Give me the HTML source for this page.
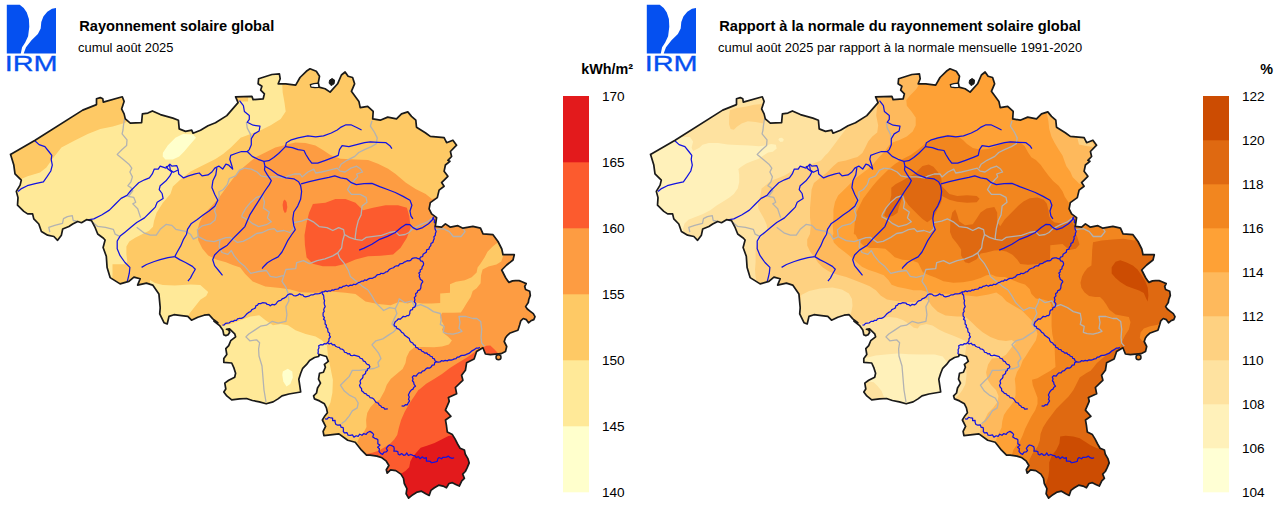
<!DOCTYPE html>
<html><head><meta charset="utf-8"><title>IRM</title>
<style>
html,body{margin:0;padding:0;background:#fff;}
body{width:1280px;height:507px;overflow:hidden;}
svg{display:block;}
text{font-family:"Liberation Sans",sans-serif;fill:#000;}
.lab{font-size:13.6px;}
.ttl{font-size:14.63px;font-weight:bold;}
.sub{font-size:12.9px;}
.unit{font-size:14.35px;font-weight:bold;}
.outl{fill:none;stroke:#1a1a1a;stroke-width:1.7;stroke-linejoin:round;}
.riv{fill:none;stroke:#1212e2;stroke-width:1.25;stroke-linejoin:round;}
.prov{fill:none;stroke:#b2b2b2;stroke-width:1.3;stroke-linejoin:round;}
</style></head><body>
<svg width="1280" height="507" viewBox="0 0 1280 507">
<defs><clipPath id="clipB"><path d="M10.5 154.5 L35.1 140.2 L82.7 110.1 L96.5 104.6 L96.5 98.8 L100.3 97.6 L102.8 98.8 L103.3 102.1 L122.3 96.8 L124.1 101.4 L121.6 108.9 L124.1 113.9 L125.3 118.9 L130.3 123.2 L141.6 122.7 L142.4 113.9 L147.9 113.1 L152.4 110.9 L160.4 114.6 L172.9 118.1 L178.4 120.2 L179.2 128.9 L185.5 131.4 L191.7 130.2 L193 133.2 L200.5 130.2 L208 125.7 L215.5 122.7 L226.8 115.6 L238.1 102.6 L235.6 96.8 L251.9 96.3 L253.1 99.6 L263.2 98.8 L264.4 93.8 L260.7 90.1 L261.9 86.3 L258.1 83.8 L258.6 78.8 L271.9 74.5 L279.4 73.8 L280.2 78.8 L278.2 83.8 L285.7 83.8 L295.7 85.1 L300 77.5 L306.3 71.3 L310 68.8 L316.3 71.3 L319.5 76.3 L318.3 82.6 L319 87.1 L325.1 88.8 L330.1 92.1 L337.6 83.8 L341.4 75 L345.1 72 L348.1 76.3 L352.6 77.5 L354.6 83.8 L351.4 91.3 L358.9 101.4 L360.2 107.6 L367.7 106.4 L373.2 111.4 L372.7 118.9 L380.2 120.2 L387.7 117.1 L396.5 118.9 L401.5 113.9 L407.8 111.9 L411.5 116.4 L415.8 120.2 L416.5 127.2 L425.3 132.7 L430.3 136.4 L444.1 137.7 L446.6 142.7 L452.9 140.2 L456.6 145.2 L450.4 151.5 L451.6 156.5 L447.9 160.3 L449.9 161.3 L445.4 165 L444.1 171.3 L447.9 176.3 L441.6 182.6 L444.1 186.3 L439.1 190.1 L437.3 197.6 L430.3 202.6 L429.1 208.9 L431.6 213.9 L436.6 217.6 L435.3 226.4 L441.6 227.2 L445.4 223.9 L450.4 227.2 L457.9 225.7 L462.9 228.2 L472.9 226.4 L480.5 228.2 L483 233.9 L493 234.7 L498 241.5 L501.8 249 L503 254.7 L514.3 254.7 L513 260 L506.7 265 L501.7 270 L505.5 277.5 L507.8 280.9 L509 282.4 L512.5 280.9 L515.5 280.6 L519.1 280.6 L522 281.8 L526.2 283.6 L524.7 286.5 L525.6 289.5 L529.7 291.2 L530.3 295.4 L528.8 299.5 L528.3 302.5 L525.6 306.6 L527.3 309 L530.3 311.4 L533.3 313.7 L535 316.7 L533.8 319.6 L530.9 320.8 L528.5 322.8 L526.2 319.6 L523.2 318.5 L520.8 320.8 L519.6 325 L518.5 328.5 L517.9 330.3 L514.3 331.5 L509.6 333.3 L507.2 335.6 L505.4 338 L504.2 341.5 L506.7 346.5 L505.5 351.5 L501 353.7 L495.4 354.2 L490.4 354.7 L485.4 354 L482.9 347.7 L476.6 351.5 L474.1 359 L466.6 362.8 L465.4 370.3 L461.6 375.3 L462.9 380.3 L461.7 381.3 L455.4 387.5 L456.7 393.8 L448.4 397.5 L449.2 401.3 L445.4 410.1 L450.9 416.3 L445.5 420 L446.4 425.2 L447.3 432 L452.4 434.6 L455 438.9 L457.6 444 L460.1 448.3 L464.4 450 L465.3 454.3 L467.9 458.6 L469.2 462.9 L467 468.1 L465.3 471.5 L462.7 474.1 L464.4 478.4 L461.8 480.9 L459.3 486.1 L455.8 484.4 L452.4 482.7 L449 483.5 L446.4 487.8 L443 486.1 L438.7 485.2 L434.4 487.8 L430.9 490.4 L429.2 495.5 L425.8 493.8 L421.5 491.2 L417.2 492.1 L412.9 494.7 L408.6 498.1 L406.1 493.8 L406.9 488.7 L404.3 483.5 L403.5 478.4 L400.9 474.1 L395.8 470.6 L390.6 469.8 L387.2 473.2 L386.3 469.8 L388.9 465.5 L386.3 461.2 L382 457.8 L376.9 456.1 L370 455.2 L366.5 455.2 L361.5 450.2 L355.2 442.2 L347.7 440.2 L338.9 433.9 L323.9 435.6 L323.1 431.4 L325.6 426.4 L322.4 420 L324.4 416.6 L327.4 412.7 L326.4 407.8 L324.4 403.8 L319.5 400.9 L314.5 398.9 L313.6 395.9 L316.5 393 L317.5 388 L320.5 383.1 L318.5 379.2 L319.5 373.3 L323.4 372.3 L325.4 367.3 L324.4 364.4 L328.3 361.4 L326.4 356.5 L319.5 354.5 L318.5 356.5 L314.5 357.5 L309.6 360.4 L306.6 364.4 L302.7 368.3 L300.7 373.3 L298.8 379.2 L299.7 385.1 L300.7 392 L294.8 393 L288.9 394 L282 395.9 L278 398.9 L273.1 401.9 L266.2 403.8 L259.3 401.9 L252.4 400.5 L246.5 398.5 L239.6 398.9 L231.7 399.9 L226.8 395.9 L223.8 392 L225.8 389 L224.8 383.1 L228.7 380.2 L234.7 377.2 L235.6 373.3 L233.7 367.3 L231.7 363 L223.8 362.4 L223.8 358.5 L226.8 354.5 L225.8 348.6 L228.7 345.6 L230.7 340.7 L235.6 336.8 L234.7 333.8 L229.5 328.8 L226.5 329.3 L228.7 329.9 L229.7 332.2 L228.1 334.8 L225.8 335.6 L223.8 334.8 L222.8 329.9 L219.9 325.9 L213.9 321 L217.8 322.7 L212.8 318.9 L209.1 314.7 L204.1 315.2 L197.8 317.2 L191.5 320.2 L187.8 316.4 L181.5 315.7 L174 314.7 L169 316.4 L167.2 324 L164 322.7 L159.7 313.9 L160.2 307.7 L158.9 293.9 L152.7 285.1 L146.4 283.1 L137.6 285.1 L140.2 278.8 L133.9 277.1 L128.9 281.4 L120.1 283.9 L110.1 277.6 L107.1 267.6 L106.3 256.3 L103.1 247.5 L105.1 240 L102.8 237.7 L97.7 234 L95.2 227.7 L91.5 220.7 L86.5 219.7 L81.5 222.7 L77.7 221.5 L72.7 224 L68.9 226.5 L62.7 229 L61.4 235.2 L57.6 240.3 L53.9 236.5 L47.6 235.2 L41.4 231.5 L38.8 224 L33.8 218.9 L32.6 213.9 L27.6 213.9 L23.8 211.4 L17.5 205.2 L18 197.6 L16.3 191.4 L20.1 185.1 L21.3 180.1 L15 173.8 L13.8 165.1 L10.5 154.3 Z"/></clipPath></defs>
<rect width="1280" height="507" fill="#fff"/>
<g id="logo">
<path d="M6.8 4.7 L19.7 4.7 L23.7 7.9 L26.8 12.6 L28.9 18.9 L29.3 26.8 L28.1 36.3 L25.2 42.6 L22.1 47.3 L20.8 53.6 L6.8 53.6 Z" fill="#0550F0"/>
<path d="M56 7.9 L52 8.7 L47.3 11.8 L43.4 16.6 L41.3 22.1 L40.7 28.4 L37.9 33.9 L31.5 40.2 L26 47.3 L23.7 53.6 L56 53.6 Z" fill="#0550F0"/>
<text x="4.7" y="71" style="font-size:22.6px;fill:#0550F0;stroke:#0550F0;stroke-width:0.3;" textLength="53" lengthAdjust="spacingAndGlyphs">IRM</text>
</g>
<g transform="translate(640,0)"><g>
<path d="M6.8 4.7 L19.7 4.7 L23.7 7.9 L26.8 12.6 L28.9 18.9 L29.3 26.8 L28.1 36.3 L25.2 42.6 L22.1 47.3 L20.8 53.6 L6.8 53.6 Z" fill="#0550F0"/>
<path d="M56 7.9 L52 8.7 L47.3 11.8 L43.4 16.6 L41.3 22.1 L40.7 28.4 L37.9 33.9 L31.5 40.2 L26 47.3 L23.7 53.6 L56 53.6 Z" fill="#0550F0"/>
<text x="4.7" y="71" style="font-size:22.6px;fill:#0550F0;stroke:#0550F0;stroke-width:0.3;" textLength="53" lengthAdjust="spacingAndGlyphs">IRM</text>
</g></g>
<text x="79.2" y="30.5" class="ttl">Rayonnement solaire global</text>
<text x="78.1" y="51.8" class="sub">cumul août 2025</text>
<text x="719.2" y="30.5" class="ttl">Rapport à la normale du rayonnement solaire global</text>
<text x="718.1" y="51.8" class="sub">cumul août 2025 par rapport à la normale mensuelle 1991-2020</text>
<text x="581.2" y="74" class="unit">kWh/m²</text>
<text x="1260.2" y="74" class="unit">%</text>
<rect x="563" y="426" width="26" height="66.3" fill="#FFFFCC"/>
<rect x="563" y="360" width="26" height="66.3" fill="#FFE998"/>
<rect x="563" y="294" width="26" height="66.3" fill="#FEC965"/>
<rect x="563" y="228" width="26" height="66.3" fill="#FD9C42"/>
<rect x="563" y="162" width="26" height="66.3" fill="#FC5B2E"/>
<rect x="563" y="96" width="26" height="66.3" fill="#E31A1C"/>
<text x="602" y="496.8" class="lab">140</text>
<text x="602" y="430.8" class="lab">145</text>
<text x="602" y="364.8" class="lab">150</text>
<text x="602" y="298.8" class="lab">155</text>
<text x="602" y="232.8" class="lab">160</text>
<text x="602" y="166.8" class="lab">165</text>
<text x="602" y="100.8" class="lab">170</text>
<rect x="1203" y="448" width="26" height="44.3" fill="#FFFFD4"/>
<rect x="1203" y="404" width="26" height="44.3" fill="#FFF1BA"/>
<rect x="1203" y="360" width="26" height="44.3" fill="#FEE2A0"/>
<rect x="1203" y="316" width="26" height="44.3" fill="#FED181"/>
<rect x="1203" y="272" width="26" height="44.3" fill="#FEB95C"/>
<rect x="1203" y="228" width="26" height="44.3" fill="#FEA136"/>
<rect x="1203" y="184" width="26" height="44.3" fill="#F2861F"/>
<rect x="1203" y="140" width="26" height="44.3" fill="#DF6911"/>
<rect x="1203" y="96" width="26" height="44.3" fill="#CC4C02"/>
<text x="1242" y="496.8" class="lab">104</text>
<text x="1242" y="452.8" class="lab">106</text>
<text x="1242" y="408.8" class="lab">108</text>
<text x="1242" y="364.8" class="lab">110</text>
<text x="1242" y="320.8" class="lab">112</text>
<text x="1242" y="276.8" class="lab">114</text>
<text x="1242" y="232.8" class="lab">116</text>
<text x="1242" y="188.8" class="lab">118</text>
<text x="1242" y="144.8" class="lab">120</text>
<text x="1242" y="100.8" class="lab">122</text>
<g transform="translate(0,0)">
<g clip-path="url(#clipB)">
<rect x="0" y="60" width="560" height="447" fill="#FEC965"/>
<path d="M5 186 L18.8 180.1 L27.6 176.3 L40.1 172.6 L46.4 167.6 L52.6 158.8 L61.4 147.6 L75.2 140.2 L87.7 133.9 L100.3 128.9 L112.8 126.4 L125.3 122.7 L135 115 L140 95 L200 95 L240 80 L282 70 L282 80 L282.7 92.6 L284.5 102.6 L285.7 111.4 L280.7 118.9 L270.7 125.2 L260.7 130.2 L250.6 133.9 L240.6 137.7 L235.6 142.7 L230.6 147.7 L223.1 154 L215.5 159 L200.5 166.5 L190.5 171.5 L180.5 179.5 L172.9 186.4 L170.4 193.9 L162.9 202.7 L156.6 212.7 L155.9 215 L154 220.9 L153 226.8 L149 230.8 L143.1 233.7 L135.2 237.7 L129.3 241.6 L126.4 246.6 L126.4 254.4 L127.3 261.4 L126.4 264.3 L112.5 264.3 L112.5 274.2 L112 282 L95 282 L90 240 L40 250 L5 215 Z" fill="#FFE998"/>
<path d="M234 95 L248.1 95 L248.1 101.4 L234 101.4 Z" fill="#FEC965"/>
<path d="M150 280 L155 283 L162.8 285 L174.7 285.6 L190.5 284.4 L200.3 285 L208.2 291.9 L206.2 295.9 L200.3 299.8 L196.4 304.7 L192.4 309.7 L189.5 313.6 L186 320 L160 330 L150 300 Z" fill="#FFE998"/>
<path d="M218 327 L230.4 324 L240.4 320.2 L250.4 316.4 L259.2 315.2 L265.5 320.2 L273 325.2 L280.5 324 L288 325.2 L295.5 330.2 L305.6 334 L315.6 336.5 L321.9 340.3 L326.9 345.3 L327.9 355.1 L330.4 367.6 L332.9 380.1 L332.4 392.7 L330.4 402.7 L326.6 410.2 L324.1 416.5 L318 420 L300 412 L215 412 L212 330 Z" fill="#FFE998"/>
<path d="M162.9 152.7 L167.9 145.2 L175.4 137.7 L183 133.9 L193 134.4 L196 137.7 L190.5 144 L184.2 151.5 L179.2 156.5 L172.9 159.5 L165.4 159.5 L162.7 156.5 Z" fill="#FFFFCC"/>
<path d="M282.8 371.4 L287.8 368.8 L292.3 371.4 L292.8 377.6 L290.3 383.9 L286.5 386.4 L283.3 381.4 L282.3 375.1 Z" fill="#FFFFCC"/>
<path d="M285.3 145 L295.3 142.5 L305.4 143 L315.4 145.5 L322.9 150.1 L330.4 155.1 L340.5 158.8 L355.5 159.6 L368 160.1 L378 163.8 L388.1 168.8 L395.6 173.9 L405.6 182.6 L415.6 188.9 L425.7 193.9 L431.9 198.9 L445 195 L480 205 L510 235 L496.4 243.4 L492.4 246.8 L487.5 251.7 L484.5 257.6 L480.6 263.5 L477.6 267.5 L476.6 272.4 L471.7 277.3 L464.8 280.3 L455.9 281.7 L450 284.2 L450 292.7 L440.2 293.5 L440.2 303 L431.3 303.4 L422.4 303.4 L415.5 302.6 L412.5 302 L407.6 303.4 L403.7 302.6 L398.7 302 L390.6 305.2 L378 303.9 L365.5 301.4 L360.5 297.7 L355.5 293.9 L345.5 292.7 L330.4 291.4 L315.4 292.7 L300.4 292.2 L290.3 289.6 L280.3 288.1 L265.3 286.4 L252.7 281.4 L245.2 273.9 L240.2 267.6 L232.7 265.1 L226 262.3 L216.1 259.4 L208.2 255.4 L202.3 248.5 L198.3 240.6 L197.4 230.8 L199.3 222.9 L203.9 214 L210.1 207.7 L218.9 197.7 L225.2 188.9 L232.7 178.9 L240.2 170.1 L247.7 163.8 L255.2 157.6 L265.3 152.6 L275.3 147.5 Z" fill="#FD9C42"/>
<path d="M520 250 L503.3 255.6 L501.3 261.6 L496.4 264.5 L488.5 266.5 L482.6 269.4 L481 275.4 L480.6 283.3 L476.6 288.2 L472.7 291.1 L470.7 297.1 L466.8 303 L463.8 307.9 L460.9 312.4 L453 312.8 L442.1 312.8 L440.2 316.8 L441 319.7 L444 325.6 L442 329.6 L444 333.5 L447.9 336.5 L451.9 340.4 L448.9 344.4 L442 346.4 L434.1 347.3 L422.3 346.9 L414.4 347.3 L409.5 351.3 L406.5 357.2 L405.5 363.1 L402.6 369 L396.6 374 L390.7 378.9 L386.8 384.8 L384.5 391 L379.5 400 L375.7 401.5 L370.4 407.3 L367.2 413.1 L366.1 420 L366.5 426.9 L364.2 431.5 L359.6 437.3 L357.3 441.9 L359.6 446.5 L355 452 L380 480 L400 505 L480 505 L545 400 L545 300 Z" fill="#FD9C42"/>
<path d="M312.9 203.9 L325.4 202.7 L335.4 198.9 L345.5 198.9 L355.5 202.7 L363 210.2 L373 207.7 L385.6 205.2 L398.1 205.2 L406.9 207.7 L409.4 216.5 L410.6 227.7 L406.9 237.8 L400.6 247.8 L393.1 254.5 L380.6 255.8 L368 256.3 L355.5 259.6 L345.5 263.8 L335.4 266.3 L322.9 266.3 L312.9 263.8 L306.6 257.6 L304.9 245 L304.5 235.2 L306.6 222.7 L309.1 212.7 Z" fill="#FC5B2E"/>
<path d="M284.8 199.5 L286.6 202 L287.3 207 L286.3 212 L284.8 213 L283.3 210 L282.6 205 L283.3 201 Z" fill="#FC5B2E"/>
<path d="M500 356 L497.2 352.3 L494.3 349.3 L490.3 345.4 L486.4 345.8 L483.4 347.3 L477.5 350.3 L471.6 354.2 L465.7 358.2 L457.8 363.1 L449.9 368 L442 374 L434.1 378.9 L426.2 383.8 L420.3 388.8 L418.4 390 L413.8 396.9 L409.2 403.8 L404.6 411.9 L401.1 420 L398.8 428.1 L397.2 435 L394.2 439.6 L389.6 444.2 L383.8 447.7 L379.2 450.4 L372.3 452.7 L366 454 L380 480 L400 505 L480 505 L500 400 Z" fill="#FC5B2E"/>
<path d="M460 434 L454.2 435 L448.4 436.1 L441.5 439.6 L434.6 443.1 L427.6 445.4 L420.7 447.7 L416.6 452.3 L412.7 456.9 L410.3 461.5 L409.2 467.3 L405.7 470.7 L402.3 473 L398 476 L400 505 L480 505 L480 440 Z" fill="#E31A1C"/>
<path d="M124.5 119 L123.5 125 L123 130 L122.1 133.9 L127 139.8 L126.6 145.6 L122.1 149.5 L117.2 154.4 L123 159.3 L128.9 164.2 L131.8 168.1 L129.9 172 L132.4 176.9 L130.9 181.8 L127.9 185.7 L130.9 187.6 L132.8 190.5 L129.9 194.5 L127.9 196.4 L133.8 197.4 L135.7 202.3 L132.8 203.9 L137.7 208.8 L139.6 214.6 L140.6 217.6" class="prov"/>
<path d="M49.8 232.2 L48.8 227.3 L54.7 225.4 L62.5 223.4 L63.5 218.6 L67.4 216.6 L72.3 215.6 L73.2 220.5 L78.1 221.5" class="prov"/>
<path d="M91.8 221.5 L97.7 226.4 L105.5 227.3 L113.3 229.3 L115.2 234.2 L119.1 236.1" class="prov"/>
<path d="M136.7 227.3 L144.5 233.2 L150.4 235.2 L156.3 235.2 L160.2 229.3 L166 224.4 L171.9 225.4 L175.8 229.3 L185.5 231.3 L190.4 234.2 L193.4 239.1 L198.3 236.7" class="prov"/>
<path d="M198.3 236.7 L197.4 229.8 L202.3 225.8 L210.2 223.9 L215.1 219.9 L216.1 215 L214.6 211 L216 205 L218 200 L219.2 196.4 L218.8 192 L223.4 189.5 L227.3 184.6 L229.3 178.5 L235.6 175.9 L239.5 170.1 L244.4 168.1" class="prov"/>
<path d="M198.3 236.7 L206.2 240.6 L214.1 241.6 L220 239.7 L225.9 237.7 L230.3 237.4 L237.1 242.3 L243 241.3 L250.8 237.4 L256.6 233.5 L262.5 232.5 L268.4 229.6 L274.2 228.6 L277.1 231.5 L284 230.5 L289.8 232.5 L293.8 228.6 L293.4 222.7 L301.6 221.2 L307.4 218.8 L313.3 221.8 L319.1 226.6 L327 227.6 L332.8 230.5 L338.7 227.6 L343.6 229.6 L344.5 234.5 L349.4 237.4 L355.3 239.3 L362.1 240.3 L366 237.4 L373.8 236.4 L381.6 235.4 L389.5 232.5 L395.3 231.5 L399.2 235.4 L405.1 234.5 L409 232.5 L412.9 228.6 L420.7 224.7 L427.5 221.8 L432.4 217.9" class="prov"/>
<path d="M220 239.7 L219.1 246.6 L222 252.5 L227.9 254.4 L231.3 250.5 L234.2 255.9 L239.1 261.7 L244.9 266.6 L250.8 273.4 L258.6 271.5 L266.4 270.5 L270.3 276.4 L276.2 277.3 L284 275.4 L285.9 269.5 L295.7 268.6 L296.7 262.7 L303.5 260.7 L309.4 263.7 L317.2 260.7 L325 258.8 L332.8 255.9 L337.7 252.9 L341.6 248 L342.6 241 L344.5 234.5" class="prov"/>
<path d="M242 214.9 L245.9 208.1 L250.8 202.2 L256.6 197.3 L262.5 195.4 L264.5 202.2 L263.5 208.1 L269.3 212 L267.4 217.9 L271.3 221.8 L266.4 224.7 L258.6 226.6 L252.7 223.7 L247.9 219.8 L242 216.9 L242 214.9" class="prov"/>
<path d="M244.4 168.1 L251.3 169.1 L257.1 172 L261 175.9 L265.9 176.9 L270.8 176.9 L276.6 176.9 L284.5 177.9 L288.4 175.9 L294.2 174 L300.1 174 L302 176.9 L307.9 172 L313.8 169.1 L315.7 173 L321.6 172 L329.4 170.1 L337.2 168.1 L340.1 171.1 L345 172 L350.9 168.1 L356.7 166.2 L360.6 169.1 L362.6 172 L356.7 174 L357.7 176.9 L354.8 179.8 L350.4 184.6 L347.5 189.5 L351.4 194.4 L360.2 194.4 L366 197.3 L367 202.2 L362.1 206.1 L361.1 214.9 L358.2 220.8 L356.3 228.6 L355.3 236.4 L355.3 239.3" class="prov"/>
<path d="M246.4 122.2 L247.3 128.1 L250.3 133.9 L251.3 138.8" class="prov"/>
<path d="M372 120.9 L370.4 126.1 L374.3 132 L377.2 137.9 L376.3 143.7 L371.4 146.6 L364.5 149.6 L358.7 152.5 L354.8 156.4 L347 160.3 L341.1 164.2 L339.1 168.1" class="prov"/>
<path d="M435.5 229.6 L443.4 228.6 L449.3 231.6 L453.3 236.5 L461.1 236.5 L465.1 231.6 L463.1 228.6" class="prov"/>
<path d="M337.7 252.9 L339.6 257.8 L344.5 263.7 L348.4 270.5 L350.4 276.4 L356.3 281.3 L362.1 286.1 L368 290 L371.9 295.9 L375.8 302.7 L379.7 306.6 L383.6 310.5 L389.5 307.6 L395.3 308.6 L398.2 302.7 L399.2 298.8 L405.1 302.7 L411.9 300.8 L414.7 306.6 L420.6 304.7 L427.5 307.6 L433.4 311.6 L440.3 313.5 L441.3 319.4 L440.3 324.4 L444.2 326.4 L443.3 332.3 L447.2 333.6 L453.1 334.2 L458 332.9 L462 331.3 L459 328.3 L460 322.4 L459 316.5 L465.9 316.5 L472.8 318.5 L476.8 318.5 L480.7 321.4 L481.7 329.3 L481.1 337.2 L481.7 343.1 L484.3 346.1" class="prov"/>
<path d="M284 275.4 L282 281.3 L285.9 287.1 L287.9 293 L288.9 300.8 L285.9 306.6 L286.9 314.5 L285.9 321.3 L278.1 323.2 L272.3 321.3 L266.4 325.2 L260.5 326.2 L254.7 330.1 L248.8 334 L245.9 336.9 L249.8 340.8 L256.6 339.8 L259.6 342.8 L258.6 349 L259 356 L262 366 L263 378 L264 390 L266 402" class="prov"/>
<path d="M395.3 308.6 L396.9 313.5 L393.9 319.4 L392 324 L396.3 329.1 L393.4 332 L388.8 334.9 L382.8 338.9 L375.9 340.8 L372 344.8 L375.9 349.7 L378.9 353.7 L380.9 358.6 L377.9 362.5 L378.9 366.5 L374 368.5 L367.1 369.4 L359.2 370.4 L352.3 370.4 L349.3 376.4 L344.4 381.3 L340.4 385.2 L344.4 391.1 L349.3 395.1 L355.2 398 L358.2 403 L357.2 407.9 L352.3 410.9 L349.3 415.8 L345.4 420.7 L341.4 423.7" class="prov"/>
<path d="M34.8 140.7 L39.1 144.6 L44.9 146.6 L48.8 151.5 L51.8 155.4 L51.2 159.3 L52.3 165.2 L50.8 171 L46.9 176.9 L43.4 181.8 L35.2 183.7 L27.3 185.7 L21.5 188.6 L18 191.5" class="riv"/>
<path d="M87.9 219.8 L93.8 218.9 L101.6 215 L109.4 210.1 L115.2 204.2 L121.1 198.4 L127 195.4 L130.9 190.5 L134.8 186.6 L138.7 182.7 L144.5 179.8 L149.4 177.9 L152.3 173.9 L154.3 169.1 L158.2 169.1 L160.2 166.1 L163.1 167.1 L166 168.1 L169.9 164.2 L171.9 166.1 L176.8 165.7 L178.1 169.1 L178.7 173.9 L183.6 177.9 L188.5 175.9 L195.3 173.9 L199.2 173 L202.1 175.9 L208 174.9 L211.9 172 L214.8 168.1 L218.8 166.1 L222.7 169.1 L225.9 164.2 L228.8 165.2 L232.7 169.1 L231.7 165.2 L229.8 159.3 L230.7 155.4 L235.6 153.5 L241.5 151.5 L247.3 151.5 L249.3 149.6 L251.3 144.7 L251.3 138.8 L254.2 133.9 L259.1 131 L260 126.1 L253.2 125.2 L247.3 122.2 L249.3 119.3 L249.3 115.4 L244.4 111.5 L243.4 105.6 L239.5 100.7" class="riv"/>
<path d="M127.3 281.1 L127.9 279.1 L129.3 273.2 L129.9 267.4 L125 262.5 L120.1 255.7 L117.2 248.8 L117.2 241 L120.1 236.1 L125 232.2 L130.9 227.3 L136.7 222.5 L144.5 217.9 L150.4 212 L155.3 207.1 L157.2 202.3 L163.1 198.4 L162.1 193.5 L159.2 189.6 L160.2 185.7 L166 180.8 L169.9 175.9 L171.9 172 L168 169.1 L166 166.1" class="riv"/>
<path d="M169.5 164.5 L170.3 170 L173.4 172.3 L178.1 170" class="riv"/>
<path d="M216.8 168.1 L215.8 174.9 L212.9 180.8 L211.9 187.6 L214.8 194.5 L217.8 200.3 L214.8 206.2 L209 211.1 L203.1 215 L197.3 219.5 L191.4 223.4 L187.5 229.3 L186.5 234.2 L183.6 239.1 L180.7 245.9 L176.8 252.7 L174.8 256.6" class="riv"/>
<path d="M174.8 256.6 L168 257.6 L160.2 259.6 L154.3 261.5 L146.5 264.5 L141.6 267.4" class="riv"/>
<path d="M174.8 256.6 L179.7 259.6 L185.5 262.5 L192.4 266.4 L195.3 269.3 L192.4 274.2 L190.4 278.1 L187.9 281.1" class="riv"/>
<path d="M247.3 151.5 L252.2 156.4 L258.1 159.3 L263.9 161.3 L268.8 160.7 L273.7 157.4 L278.6 153.5 L282.5 149.6 L285.4 146.6 L286.4 142.7 L291.3 139.8 L298.1 137.9 L307.9 135.9 L315.7 136.9 L323.5 135.9 L331.3 133 L337.2 130 L341.1 127.1 L346 124.8 L350.9 124.8 L356.7 127.5 L361.6 130" class="riv"/>
<path d="M285.4 146.6 L292.3 147.6 L298.1 149.6 L304 150.5 L305.9 154.5 L308.9 159.3 L311.8 163.2 L317.7 163.2 L325.5 160.3 L333.3 157.4 L338.2 155.4 L339.5 149.6 L342.1 145.7 L348.9 146.6 L356.7 144.7 L364.5 142.7 L370.4 141.8 L378.2 142.3 L386 142.7 L389.9 145.7 L391.9 148.6" class="riv"/>
<path d="M263.9 161.3 L264.9 166.2 L264.5 170 L267.4 174.9 L271.3 180.7 L269.3 184.6 L264.5 191.5 L259.6 199.3 L254.7 207.1 L249.8 214.9 L246.9 221.8 L244.9 226.6 L239.1 232.5 L233.2 238.4 L227.3 245.2 L219.5 250.1 L214.6 255 L212.7 259.8 L214.6 265.6 L218.6 270.5 L222.5 275.4" class="riv"/>
<path d="M264.9 166.2 L271.3 170 L278.1 174.9 L285.9 177.8 L293.8 178.8 L298.6 181.7 L300.6 185.6 L301.6 191.5 L300.6 199.3 L297.7 206.1 L293.8 212 L292.8 218.8 L293.8 225.7 L295.3 229.6 L291.8 234.5 L287.9 240.3 L285 246.2 L282 252 L278.1 256.9 L272.3 259.8 L267.4 262.8 L263.5 266.7 L262.1 268.6" class="riv"/>
<path d="M301.1 183.8 L309.4 181.7 L319.1 179.4 L328.9 177.4 L334.8 175.9 L340.6 177.8 L346.5 178.8 L351.4 182.7 L356.3 184.6 L364.1 183.7 L371.9 183.3 L379.7 186.6 L387.5 189.5 L395.3 192.5 L403.1 196.4 L410 200.3 L411.9 205.2 L410 211 L410.9 215.9 L412.9 218.8" class="riv"/>
<path d="M359.2 250.1 L364.1 248.1 L371.9 244.2 L379.7 239.3 L387.5 236.4 L395.3 232.5 L401.2 227.6 L406.1 224.3 L410 224.7 L412.9 227.6 L416.8 229.6 L422.7 227.6 L428.5 223.7 L432.4 219.8 L433.4 216.9" class="riv"/>
<path d="M222.5 325.2 L224.23 324.84 L225.49 323.36 L227.27 323.12 L229.35 322.84 L231.06 321.39 L233.24 321.43 L234.52 320.26 L236.42 320.41 L237.53 318.93 L239.14 318.48 L241.23 318.31 L243.17 317.65 L244.83 316.21 L245.96 314.86 L247.18 313.48 L248.7 312.4 L250.68 311.5 L251.84 309.62 L253.81 308.74 L255.42 307.87 L255.81 305.81 L257.57 305.12 L258.51 303.61 L260.62 303.67 L262.48 302.7 L264.53 302.85 L266.08 303.21 L267.25 304.49 L268.99 304.68 L270.27 305.77 L272.05 304.39 L274.41 304.9 L276.22 303.77 L277.26 302.01 L278.76 300.85 L280.82 300.34 L282.12 298.95 L284.09 298.13 L285.95 297.01 L287.03 295.68 L288.19 294.5 L289.86 293.97 L291.93 294.1 L293.61 295.6 L295.74 295.79 L297.78 295.16 L299.56 293.83 L300.96 294.87 L302.77 294.97 L303.92 296.35 L305.55 296.8 L307.5 296.43 L309.45 295.82 L311.27 294.8 L313.31 294.81 L315.17 293.85 L317.19 293.84 L319 293.69 L320.63 293.07 L322.04 291.85 L323.83 291.97 L325.4 290.85 L327.25 291.58 L328.87 290.81 L330.58 291.1 L331.94 289.92 L333.65 290.16 L335.09 289.26 L336.72 289.17 L338.44 288.97 L339.61 287.35 L341.54 287.72 L342.81 286.35 L344.55 286.22 L346.38 285.25 L348.47 286.26 L350.31 285.07 L352.31 285.27 L353.74 284.24 L355.69 284.6 L357.12 283.62 L358.52 282.54 L360.16 282.1 L361.59 281.17 L363.39 281.24 L364.66 279.86 L366.59 280.3 L367.96 279.19 L369.83 278.34 L372.04 278.47 L373.85 277.43 L375.46 276.96 L376.52 275.39 L377.94 274.54 L379.74 274.47 L381.05 273.25 L382.94 273.57 L384.5 272.99 L385.86 271.86 L387.56 271.66 L388.67 270.06 L390.06 268.97 L391.69 268.23 L393.5 267.75 L394.8 266.5 L396.4 265.8 L398.39 265.88 L399.49 264.17 L401.14 263.58 L402.84 263.31 L404.19 262.15 L405.76 261.59 L407.21 260.71 L409.08 260.9 L410.65 260.37 L411.71 258.86 L413.14 258.1 L414.85 257.91 L416.49 257.84 L418.02 258.69 L419.68 258.89 L420.58 257.09 L422.68 256.48 L423.11 254.36 L424.63 253.24 L426.33 252.13 L426.62 249.87 L428.86 249.2 L429.46 247.18 L430.78 245.69 L430.97 243.52 L432.92 242.35 L433.41 240.35 L434.21 238.73 L433.94 236.79 L435.31 235.31 L435.34 233.45 L436.16 231.53 L435.24 229.55 L434.83 227.57 L435.31 225.6 L435.65 223.72 L434.21 222.19 L434.57 220.26 L433.41 218.67 L433.65 216.77" class="riv"/>
<path d="M322.1 292 L322.32 293.77 L323.56 295.26 L323.86 297.01 L323.84 298.85 L324.61 300.7 L324.1 302.75 L324.48 304.68 L325.19 306.58 L324.27 308.1 L323.7 309.63 L324.27 311.46 L323.12 312.85 L323.08 314.52 L323.16 316.12 L324.47 317.45 L323.53 319.35 L325.09 320.61 L325.16 322.26 L325.11 324.03 L326.44 325.32 L326.14 327.2 L327.61 328.43 L327.81 330.13 L328.07 331.97 L329.68 333.35 L329.37 335.39 L330.46 336.94 L328.98 338.74 L328.9 341.05 L327.47 342.74 L326.14 343.88 L324.14 343.67 L322.75 344.92 L320.55 344.68 L318.68 345.73 L319.05 347.82 L318.08 349.71 L318.3 351.72 L317.92 353.38 L319.17 354.89 L318.59 356.61" class="riv"/>
<path d="M327.6 342.8 L329.13 343.96 L331.21 343.25 L332.58 344.97 L334.55 344.62 L335.63 346.3 L337.27 347.02 L339.23 347.26 L340.34 348.78 L342.25 349.18 L343.73 350.2 L344.53 352.25 L346.45 352.62 L347.69 353.8 L349.56 353.71 L350.61 355.31 L352.23 355.74 L354.12 355.22 L355.81 355.65 L357.51 356.13 L359.19 356.69 L360.32 358.27 L362.38 358.83 L363.21 360.84 L365.15 361.54 L366.01 363.14 L367.21 364.39 L369.1 364.95 L369.86 366.64 L369.29 367.99 L367.57 368.73 L367.26 370.52 L365.77 371.38 L365.61 373.31 L364.45 374.43 L362.99 375.32 L362.93 377.15 L362.16 378.6 L360.72 379.72 L360.02 381.21 L360.65 383.27 L359.51 385.23 L360.27 387.2 L361.59 388.58 L361.62 390.77 L363.24 392.02 L364.43 393.31 L366.26 393.79 L367.3 395.43 L369.09 395.97 L370.18 397.71 L372.39 398.08 L373.91 399.27 L375.04 400.95 L376.23 402.52 L378.25 403.09 L379.21 404.93 L380.83 405.99 L381.87 407.33 L383.72 407.61 L384.7 409.03 L387.8 408.83" class="riv"/>
<path d="M419.7 259.2 L420.72 260.82 L422.7 261.46 L423.6 263.2 L423.4 265.19 L422.13 266.95 L421.82 269.04 L420.17 269.94 L420.25 272.08 L418.79 273.07 L419.71 274.49 L419.12 276.32 L419.87 277.86 L420.41 279.45 L422.01 280.34 L422.8 281.82 L421.43 283.7 L420.92 285.77 L420.82 287.98 L419.87 289.82 L417.82 290.61 L417.16 292.59 L415.54 293.75 L415.94 295.86 L414.3 297.63 L414.92 299.73 L414.32 301.77 L415.88 303.55 L415.53 305.61 L414.68 307.06 L412.92 307.69 L412.49 309.63 L410.58 310.11 L409.87 311.76 L409.79 313.7 L408.81 315.53 L406.89 315.72 L405.32 316.74 L403.31 316.28 L401.85 317.68 L400.51 319.04 L398.23 318.92 L396.95 320.49 L395.47 321.41 L394.66 322.89 L394.01 324.48 L394.5 326 L396.29 326.7 L396.84 328.35 L398.92 329.16 L400.5 330.56 L401.73 332.38 L403.49 333.29 L404.49 335.12 L406.06 336.26 L407.66 337.37 L409.31 338.44 L409.78 340.54 L410.92 342.09 L412.81 343.01 L413.63 344.62 L415.37 345.33 L415.81 347.34 L417.71 347.89 L418.79 349.42 L420.84 349.57 L421.87 351.24 L423.6 351.85 L424.79 353.1 L426.76 352.83 L427.81 354.42 L429.44 354.81 L430.36 356.26 L432.13 356.62 L432.75 358.4 L434.47 358.81 L434.91 360.73 L436.59 361.78 L434.71 362.61 L434.31 364.78 L432.26 365.08 L431.34 366.66 L429.78 368.01 L427.43 367.88 L425.77 368.97 L424.4 370.58 L422.39 371.09 L421.07 372.78 L418.79 372.83 L417.35 374.32 L416.12 376.03 L413.67 375.64 L412.28 377.1 L413.07 378.9 L412.42 380.76 L413.63 382.25 L414.09 384.41 L415.49 386.15 L413.87 387.33 L412.96 389.1 L411.26 390.06 L410.03 391.59 L409.2 393.31 L408.38 395.03 L409.28 396.99 L408.52 399.14 L409.57 400.99 L408.25 402.82 L407.37 404.84 L405.44 404.67 L403.68 406.21 L401.59 405.82" class="riv"/>
<path d="M436.4 361.9 L438.18 362.05 L439.93 361.98 L441.5 360.65 L443.32 361.04 L445.23 360.46 L447.26 360.89 L449.1 359.76 L451.12 360.06 L452.8 359.63 L454.33 358.89 L456.03 358.61 L457.25 357.05 L459.06 357.06 L460.44 355.94 L462.01 355.32 L463.81 355.36 L465.45 354.94 L466.92 354.07 L468.89 353.45 L470.44 352.16 L471.97 350.83 L473.75 349.91 L475.13 348.97 L476.51 348.06 L478.41 348.2 L479.75 347.21" class="riv"/>
<path d="M325 418.8 L327.05 419.06 L328.72 417.28 L330.85 417.98 L332.62 418.18 L332.59 420.51 L335.08 420.32 L335.15 422.55 L335.97 424.51 L337.81 425.14 L340.44 424.8 L340.98 427.05 L343.15 427.64 L343.43 429.45 L343.33 431.49 L344.42 432.81 L346.91 432.52 L348.1 435.17 L350.28 435.3 L352.41 434.81 L353.93 437.13 L356.17 435.76 L358.15 436.34 L359.75 434.22 L361.95 435.26 L363.63 433.72 L366.16 434.46 L367.61 432.48 L370 431.38 L372.3 432.86 L373.63 434.37 L372.78 436.92 L374.78 438.33 L376.55 438.78 L377.86 439.81 L377.89 442.11 L377.79 443.72 L380.01 445.13 L377.63 447.28 L379.46 448.76 L378.96 451.32 L380.57 453.35 L382.55 454.35 L384.09 452.09 L386.04 452 L387.53 450.58 L386.29 448.31 L387.63 446.57 L389.37 444.99 L391.97 445.67 L393.83 446.83 L394.26 448.87 L393.9 451.22 L396.11 451.22 L397.82 451.65 L398.22 454.27 L399.77 454.97 L401.59 453.55 L403.68 455.3 L405.39 454.93 L406.82 452.97 L408.31 455.49 L410.96 454.44 L412.83 455.37 L414.72 455.53 L416.28 457.54 L418.45 456.67 L420.04 458.7 L422.44 456.85 L424.14 458.39 L426.41 457.66 L426.38 461.03 L428.3 461.08 L430.11 461.31 L431.49 462.69 L433.52 462.37 L435.27 461.98 L437.27 461.42 L437.76 458.88 L439.08 457.53 L441.6 458.74 L442.79 457.27 L444.59 457.35 L446.51 457.11 L448.37 456.1 L450.16 457.72 L452.05 458.31 L454.14 457.74" class="riv"/>
</g>
<path d="M10.5 154.5 L35.1 140.2 L82.7 110.1 L96.5 104.6 L96.5 98.8 L100.3 97.6 L102.8 98.8 L103.3 102.1 L122.3 96.8 L124.1 101.4 L121.6 108.9 L124.1 113.9 L125.3 118.9 L130.3 123.2 L141.6 122.7 L142.4 113.9 L147.9 113.1 L152.4 110.9 L160.4 114.6 L172.9 118.1 L178.4 120.2 L179.2 128.9 L185.5 131.4 L191.7 130.2 L193 133.2 L200.5 130.2 L208 125.7 L215.5 122.7 L226.8 115.6 L238.1 102.6 L235.6 96.8 L251.9 96.3 L253.1 99.6 L263.2 98.8 L264.4 93.8 L260.7 90.1 L261.9 86.3 L258.1 83.8 L258.6 78.8 L271.9 74.5 L279.4 73.8 L280.2 78.8 L278.2 83.8 L285.7 83.8 L295.7 85.1 L300 77.5 L306.3 71.3 L310 68.8 L316.3 71.3 L319.5 76.3 L318.3 82.6 L319 87.1 L325.1 88.8 L330.1 92.1 L337.6 83.8 L341.4 75 L345.1 72 L348.1 76.3 L352.6 77.5 L354.6 83.8 L351.4 91.3 L358.9 101.4 L360.2 107.6 L367.7 106.4 L373.2 111.4 L372.7 118.9 L380.2 120.2 L387.7 117.1 L396.5 118.9 L401.5 113.9 L407.8 111.9 L411.5 116.4 L415.8 120.2 L416.5 127.2 L425.3 132.7 L430.3 136.4 L444.1 137.7 L446.6 142.7 L452.9 140.2 L456.6 145.2 L450.4 151.5 L451.6 156.5 L447.9 160.3 L449.9 161.3 L445.4 165 L444.1 171.3 L447.9 176.3 L441.6 182.6 L444.1 186.3 L439.1 190.1 L437.3 197.6 L430.3 202.6 L429.1 208.9 L431.6 213.9 L436.6 217.6 L435.3 226.4 L441.6 227.2 L445.4 223.9 L450.4 227.2 L457.9 225.7 L462.9 228.2 L472.9 226.4 L480.5 228.2 L483 233.9 L493 234.7 L498 241.5 L501.8 249 L503 254.7 L514.3 254.7 L513 260 L506.7 265 L501.7 270 L505.5 277.5 L507.8 280.9 L509 282.4 L512.5 280.9 L515.5 280.6 L519.1 280.6 L522 281.8 L526.2 283.6 L524.7 286.5 L525.6 289.5 L529.7 291.2 L530.3 295.4 L528.8 299.5 L528.3 302.5 L525.6 306.6 L527.3 309 L530.3 311.4 L533.3 313.7 L535 316.7 L533.8 319.6 L530.9 320.8 L528.5 322.8 L526.2 319.6 L523.2 318.5 L520.8 320.8 L519.6 325 L518.5 328.5 L517.9 330.3 L514.3 331.5 L509.6 333.3 L507.2 335.6 L505.4 338 L504.2 341.5 L506.7 346.5 L505.5 351.5 L501 353.7 L495.4 354.2 L490.4 354.7 L485.4 354 L482.9 347.7 L476.6 351.5 L474.1 359 L466.6 362.8 L465.4 370.3 L461.6 375.3 L462.9 380.3 L461.7 381.3 L455.4 387.5 L456.7 393.8 L448.4 397.5 L449.2 401.3 L445.4 410.1 L450.9 416.3 L445.5 420 L446.4 425.2 L447.3 432 L452.4 434.6 L455 438.9 L457.6 444 L460.1 448.3 L464.4 450 L465.3 454.3 L467.9 458.6 L469.2 462.9 L467 468.1 L465.3 471.5 L462.7 474.1 L464.4 478.4 L461.8 480.9 L459.3 486.1 L455.8 484.4 L452.4 482.7 L449 483.5 L446.4 487.8 L443 486.1 L438.7 485.2 L434.4 487.8 L430.9 490.4 L429.2 495.5 L425.8 493.8 L421.5 491.2 L417.2 492.1 L412.9 494.7 L408.6 498.1 L406.1 493.8 L406.9 488.7 L404.3 483.5 L403.5 478.4 L400.9 474.1 L395.8 470.6 L390.6 469.8 L387.2 473.2 L386.3 469.8 L388.9 465.5 L386.3 461.2 L382 457.8 L376.9 456.1 L370 455.2 L366.5 455.2 L361.5 450.2 L355.2 442.2 L347.7 440.2 L338.9 433.9 L323.9 435.6 L323.1 431.4 L325.6 426.4 L322.4 420 L324.4 416.6 L327.4 412.7 L326.4 407.8 L324.4 403.8 L319.5 400.9 L314.5 398.9 L313.6 395.9 L316.5 393 L317.5 388 L320.5 383.1 L318.5 379.2 L319.5 373.3 L323.4 372.3 L325.4 367.3 L324.4 364.4 L328.3 361.4 L326.4 356.5 L319.5 354.5 L318.5 356.5 L314.5 357.5 L309.6 360.4 L306.6 364.4 L302.7 368.3 L300.7 373.3 L298.8 379.2 L299.7 385.1 L300.7 392 L294.8 393 L288.9 394 L282 395.9 L278 398.9 L273.1 401.9 L266.2 403.8 L259.3 401.9 L252.4 400.5 L246.5 398.5 L239.6 398.9 L231.7 399.9 L226.8 395.9 L223.8 392 L225.8 389 L224.8 383.1 L228.7 380.2 L234.7 377.2 L235.6 373.3 L233.7 367.3 L231.7 363 L223.8 362.4 L223.8 358.5 L226.8 354.5 L225.8 348.6 L228.7 345.6 L230.7 340.7 L235.6 336.8 L234.7 333.8 L229.5 328.8 L226.5 329.3 L228.7 329.9 L229.7 332.2 L228.1 334.8 L225.8 335.6 L223.8 334.8 L222.8 329.9 L219.9 325.9 L213.9 321 L217.8 322.7 L212.8 318.9 L209.1 314.7 L204.1 315.2 L197.8 317.2 L191.5 320.2 L187.8 316.4 L181.5 315.7 L174 314.7 L169 316.4 L167.2 324 L164 322.7 L159.7 313.9 L160.2 307.7 L158.9 293.9 L152.7 285.1 L146.4 283.1 L137.6 285.1 L140.2 278.8 L133.9 277.1 L128.9 281.4 L120.1 283.9 L110.1 277.6 L107.1 267.6 L106.3 256.3 L103.1 247.5 L105.1 240 L102.8 237.7 L97.7 234 L95.2 227.7 L91.5 220.7 L86.5 219.7 L81.5 222.7 L77.7 221.5 L72.7 224 L68.9 226.5 L62.7 229 L61.4 235.2 L57.6 240.3 L53.9 236.5 L47.6 235.2 L41.4 231.5 L38.8 224 L33.8 218.9 L32.6 213.9 L27.6 213.9 L23.8 211.4 L17.5 205.2 L18 197.6 L16.3 191.4 L20.1 185.1 L21.3 180.1 L15 173.8 L13.8 165.1 L10.5 154.3 Z" class="outl"/>
<circle cx="498.5" cy="357.3" r="2.5" fill="#FD9C42" stroke="#1a1a1a" stroke-width="1.5"/>
<path d="M318.3 83.1 L313.8 83.6 L310.3 84.6 L311 87.1 L315 87.6 L319 87.3 Z" fill="#fff" stroke="#1a1a1a" stroke-width="1.3" stroke-linejoin="round"/>
<path d="M329.6 80.1 L332.1 78.5 L334.6 80.1 L334.1 83.8 L331.1 85.6 L329.1 83.1 Z" fill="#1a1a1a" stroke="#1a1a1a" stroke-width="1"/>
</g>
<g transform="translate(640,0)">
<g clip-path="url(#clipB)">
<rect x="0" y="60" width="560" height="447" fill="#FEE2A0"/>
<path d="M34 133 L40.6 136.9 L50 136.9 L53.1 141.6 L51.6 147.8 L53.1 150.9 L59.4 147.8 L62.5 144.7 L68.8 143.1 L78.1 143.1 L87.5 144.4 L96.9 145 L109.4 145.5 L118.8 146.3 L125 145.5 L131.3 143.9 L135.9 144.7 L136.7 148.6 L132.8 151.7 L128.1 152.5 L123.4 155.6 L118.8 158.8 L112.5 161.1 L106.3 163.4 L101.6 166.6 L98.4 168.9 L99.2 174.4 L99.2 182.2 L97.7 188.4 L93.8 193.9 L89.1 197.8 L82.8 201.7 L76.6 205.6 L70.3 210.3 L62.5 214.2 L54.7 217.3 L48.4 219.7 L44.5 223.6 L43 229.1 L43.8 233.8 L44 246 L0 246 L0 140 Z" fill="#FFF1BA"/>
<path d="M138.3 139.8 L139.5 138 L142 137.7 L143.8 139.5 L143 141.5 L140.5 142 Z" fill="#FFF1BA"/>
<path d="M89.8 110.3 L96.9 108 L106.3 106.4 L114.1 104.8 L122.7 104.1 L128 100 L128 121 L125 120.5 L123.4 123.6 L115.6 122 L107.8 121.3 L101.6 123.6 L96.9 126.7 L93.8 129.8 L90.6 129.1 L89.1 124.4 L89.1 116.6 Z" fill="#FED181"/>
<path d="M208 124 L205.6 129.4 L199.7 137.3 L193.8 145.2 L187.9 153.1 L185.6 155 L180.9 160.5 L173.1 163.6 L165.3 165.9 L157.5 167.5 L151.3 171.4 L145 175.3 L137.2 178.4 L130.9 180.8 L126.3 184.7 L121.6 188.6 L120.3 196.3 L118 202.5 L118.4 208.8 L121.1 213.4 L124.2 218.9 L126.6 224.4 L127.3 229.1 L123.4 233.8 L120.3 238.4 L117.2 244 L115.6 250 L115.6 262 L115 270 L115.6 277 L117 283 L110 290 L110 510 L560 510 L560 60 L210 60 Z" fill="#FED181"/>
<path d="M157 313 L159.7 309 L160.5 301.3 L161.3 295 L169.1 291.1 L180 288.4 L192.5 287.5 L201.9 289.5 L208.9 293.4 L212 298.9 L212.5 305.9 L211.3 312.2 L209.7 316 L205 322 L160 324 Z" fill="#FEE2A0"/>
<path d="M216 327 L222.2 323.9 L230 320.8 L239.4 318.4 L248.8 316.9 L256.6 317.7 L262.8 320 L269.1 323.9 L273.8 327.8 L277.7 328.6 L280 325.5 L286.3 323.9 L292.5 325.5 L298.8 329.4 L305 332.5 L312.8 335.6 L320.6 338.8 L325.3 341.1 L326.5 345 L325 354.6 L325.8 364.4 L326.6 374.3 L325.4 384.2 L322.4 390.1 L319.5 394 L315 399 L308 400 L260 412 L215 402 L212 330 Z" fill="#FEE2A0"/>
<path d="M220 357 L227.8 357.5 L235.6 355.6 L245.5 354.6 L257.3 353.6 L269.2 354.2 L281 354.6 L294.8 354.6 L302.7 356.6 L306.6 361.5 L307.6 367.4 L309 372 L312 400 L260 412 L247 402 L245.5 399 L243.5 396 L241.6 391.1 L237.6 386.1 L233.7 382.2 L220 380 Z" fill="#FFF1BA"/>
<path d="M237 95 L237.2 105.8 L236.2 115.6 L238.2 125.5 L237.2 132.4 L232.3 136.4 L228.3 141.3 L225.4 147.2 L222.4 153.1 L217.5 157.1 L213.8 158.1 L205.9 160.5 L198.1 162 L193.4 165.9 L187.2 172.2 L179.4 178.4 L173.9 183.1 L171.6 189.4 L170.8 198.8 L170 208.1 L170 217.5 L170.8 225.3 L170 234 L167.2 239.4 L167.2 245.6 L170.3 251.9 L175 258.1 L178.1 262.8 L182.8 267.5 L189.1 271.4 L196.9 274.5 L206.3 276.9 L214.1 280 L221.9 283.1 L229.7 286.3 L235.9 290.2 L240.6 295.6 L246.9 299.5 L256.3 301.1 L265.6 301.9 L275 301.9 L282.8 298.8 L287.9 300 L291.8 305.9 L297.7 311.7 L305.5 315.6 L317.2 316.6 L325 316.6 L330.9 321.5 L336.7 327.3 L342.6 332.2 L350.4 337.1 L358.2 340 L366 341 L371.9 340 L375.8 343 L371.9 346.9 L366 354.7 L360.2 358 L352 358.5 L348.1 364.4 L346.1 372.3 L347.3 379 L351 385 L356 390 L358.5 396 L357.5 402 L353 408 L348 413 L345 419 L341 426 L340 432 L341.3 437 L345 452 L360 510 L560 510 L560 60 L240 60 Z" fill="#FEB95C"/>
<path d="M437.3 137.7 L444 136.5 L446 140 L453 143 L454 147 L446 146 L439 144.5 Z" fill="#FED181"/>
<path d="M282 80 L279.1 84.4 L276.2 89.3 L270.3 95.2 L266.3 100 L266.8 105.8 L271.7 111.7 L275.7 117.6 L275.7 125.5 L272.7 131.4 L266.8 136.4 L258.9 140.3 L253 142.3 L249 145.2 L245.1 151.1 L239.2 157.1 L233.3 164 L227.8 169.1 L221.6 173.8 L215.3 178.4 L209.1 184.7 L202.8 190.9 L198.1 195.6 L195 201.9 L193.4 209.7 L193.4 217.5 L192.7 225.3 L193.4 234 L192.2 236.3 L193.8 242.5 L198.4 247.2 L204.7 251.9 L209.4 255.8 L215.6 261.3 L221.9 266.7 L228.1 269.8 L235.9 272.2 L243.8 275.3 L248.4 280 L251.6 284.7 L257.8 287 L265.6 288.6 L273.4 290.2 L281.3 290.2 L289.8 292.5 L301.6 293.5 L317.2 294.5 L327 295.4 L336.7 296.4 L348.4 294.5 L356.3 292.5 L362.1 296.4 L366.3 301.3 L374.1 305.9 L381.9 310.6 L386.6 315.3 L391.3 320 L395.2 326.3 L397.5 334.1 L395.9 340.3 L392.8 345 L389.7 349.7 L385.8 355.9 L382.7 360.6 L380.3 366.9 L377 372 L374.8 379.1 L375.6 386.9 L375.6 394.7 L374.1 400.9 L370.9 405.6 L367 410.3 L363.9 415 L362.3 421.3 L361.6 427.5 L358.4 434.3 L356.1 439.7 L356.9 444 L360 456 L370 510 L560 510 L560 190 L445 186 L438.9 183.4 L436.6 181.1 L432.7 177.2 L430.3 171.7 L426.4 166.3 L424.8 161.9 L422.5 155.6 L418.6 149.4 L414.7 143.1 L411.6 136.9 L409.2 129.1 L408.4 121.3 L406.9 113.4 L406 105 L400 60 L282 60 Z" fill="#FEA136"/>
<path d="M213.8 234 L214.5 225.3 L215.3 217.5 L216.9 211.3 L220 205 L223.1 198.8 L227.8 192.5 L232.5 186.3 L237.2 180.7 L243.1 174.8 L249 168.9 L255 164 L262.8 159 L270.7 155.1 L278.6 149.2 L284.5 144.2 L290.5 140.3 L297.7 137.1 L305.5 135.2 L313.3 135.2 L319.1 137.1 L323 140.1 L327 144 L332.8 147.9 L340.6 149.8 L348.4 148.9 L356.3 145.9 L364.1 143 L371.9 141.1 L379.7 142 L384.6 145.9 L388.1 152.5 L391.3 157.2 L395.9 160 L400.6 164.7 L404.5 170.2 L408.4 175.6 L413.1 181.1 L418.6 185.8 L422.5 191.3 L424.8 196.7 L428 201.4 L430 206 L445 200 L560 200 L560 510 L375 510 L371.7 456 L373.3 449.9 L376.4 445.2 L380.3 440.5 L382.7 435.3 L385 429.1 L388.1 422.8 L391.3 416.6 L395.2 410.3 L397.5 404.1 L397.5 397.8 L395.2 391.6 L392.8 385.3 L392 379.8 L397.5 378.3 L403.8 374.4 L410 371 L415.5 367 L415 357.5 L414.7 349.7 L413.9 341.9 L412.3 334.1 L411.6 326.3 L411.6 318.4 L411.6 310.6 L411 304 L409 301.3 L403.1 299.5 L395.9 298.4 L391.3 293.8 L389.7 289.1 L385 284.5 L380 283 L375 281 L370 279 L365 277 L360 277 L356 276.5 L351.4 274.5 L346.5 275.3 L340.6 277.9 L332.8 280.4 L323 282.3 L313.3 282.7 L303.5 281.2 L295.3 277.5 L289.1 275.3 L282.8 272.2 L280.5 267.5 L278.1 262.8 L271.9 260.5 L262.5 259.7 L254.7 257.3 L250 252.7 L245.3 248.8 L237.5 248 L229.7 248 L223.4 245.6 L218.8 240.9 L215.6 234.7 Z" fill="#F2861F"/>
<path d="M276.3 172.2 L282.5 165.9 L288.8 164.4 L293.4 166.7 L298.1 172.2 L301.3 178.4 L302 186.3 L309.4 193.9 L317.2 195.9 L327 195.3 L336.7 195.9 L339.6 198.8 L336.7 202.3 L327 202.7 L317.2 201.8 L309.4 199.8 L302 196 L301.3 201.9 L298.1 208.1 L295 214.4 L291.9 219.1 L287.2 222.2 L282.5 219.1 L277.8 214.4 L273.1 209.7 L268.4 205 L265.3 200.3 L263.8 195.6 L261.4 200.3 L259.1 206.6 L257.5 212.8 L252.8 215.9 L246.6 217.5 L244.2 215.2 L246.6 208.1 L249.7 201.9 L251.3 195.6 L251.3 187.8 L255.9 183.9 L262.2 180.8 L268.4 176.9 L273.1 174.5 Z" fill="#DF6911"/>
<path d="M310.4 221.3 L312.3 212.5 L315.2 209.6 L317.2 214.5 L319.1 221.3 L325 225.2 L332.8 224.2 L336.7 218.4 L340.6 212.5 L346.5 208.6 L354.3 207 L357.2 212.5 L357.2 222.3 L360.2 226.2 L364.7 219.4 L369.4 214.7 L374.1 210 L378.8 205.3 L383.4 201.4 L389.7 198.3 L397.5 197.5 L403.8 199.8 L406.9 203.8 L408.4 210 L409.2 216.3 L411.6 220.2 L414.7 222.5 L420.9 223.3 L427.2 222.5 L431.9 221.7 L434.2 225.6 L435 231.9 L437.3 237 L439.5 244.5 L435.8 248.8 L429.5 250 L426.4 247.5 L422.5 244.1 L410.3 245.3 L410 260.2 L405.3 262.5 L397.5 264.1 L388.1 264.8 L380.3 264.1 L377.2 259.4 L372.5 254.7 L366.3 251.6 L360 250.3 L354.3 250.5 L346.5 252.5 L340.6 253.4 L336.7 259.3 L328.9 263.2 L325 262.2 L321.1 255.4 L321.1 249.5 L317.2 243.7 L312.3 237.8 L310 232 Z" fill="#DF6911"/>
<path d="M500 236 L494.4 240.6 L489.7 239.8 L483.4 238.8 L472.5 239.4 L461.6 240.6 L453 242.2 L452.2 250 L451.9 257.8 L451.4 265.6 L447.5 268 L444.4 271.9 L442 276.6 L440.5 282.8 L441.3 287.5 L444.4 292.2 L449.1 296.1 L455.3 296.9 L460 296.9 L463.1 300 L466.3 304.4 L469.4 309.8 L475.6 314.5 L483.4 316.1 L488.9 316.9 L490.5 322.3 L488.9 329.4 L485 335.6 L481.9 341.9 L480.3 346.6 L474.1 348.9 L469.4 352 L466.3 355.2 L461.6 359.1 L456.9 363 L453.8 366.9 L450.6 370.8 L446.5 373 L439.7 377.5 L436.6 383.8 L433.4 390 L428.8 396.3 L422.5 402.5 L416.3 408.8 L411.6 415 L406.9 421.3 L403 427.5 L400.6 433.8 L399.8 440.5 L397.5 446.8 L392.8 453 L389.7 459.3 L388.1 464.5 L390 480 L400 510 L560 510 L560 236 Z" fill="#DF6911"/>
<path d="M520 323 L517.8 324.7 L510 326.3 L503.8 328.6 L500.6 332.5 L499.8 338 L502.2 341.1 L510 343 L522 336 Z" fill="#F2861F"/>
<path d="M471.7 267.2 L475.6 261.7 L480.3 260.2 L486.6 262.5 L492.8 265.6 L497.5 269.5 L501.4 275 L505.3 281.3 L507.7 287.5 L508.4 295.3 L507.7 301.6 L506.1 298.4 L503.8 293 L499.1 290.6 L492.8 288.3 L486.6 285.9 L480.3 282 L475.6 278.1 L471.7 273.4 Z" fill="#CC4C02"/>
<path d="M464 450 L461.6 449.1 L456.9 448.3 L450.6 445.2 L444.4 441.3 L439.7 438.2 L433.4 436.6 L425.6 435.8 L420.2 436.6 L419.4 443.6 L416.3 449.9 L411.6 456.1 L409.2 462.4 L409.2 470.2 L408.4 476.4 L406.9 481.1 L405.3 485 L405 496 L410 510 L485 510 L485 450 Z" fill="#CC4C02"/>
<path d="M124.5 119 L123.5 125 L123 130 L122.1 133.9 L127 139.8 L126.6 145.6 L122.1 149.5 L117.2 154.4 L123 159.3 L128.9 164.2 L131.8 168.1 L129.9 172 L132.4 176.9 L130.9 181.8 L127.9 185.7 L130.9 187.6 L132.8 190.5 L129.9 194.5 L127.9 196.4 L133.8 197.4 L135.7 202.3 L132.8 203.9 L137.7 208.8 L139.6 214.6 L140.6 217.6" class="prov"/>
<path d="M49.8 232.2 L48.8 227.3 L54.7 225.4 L62.5 223.4 L63.5 218.6 L67.4 216.6 L72.3 215.6 L73.2 220.5 L78.1 221.5" class="prov"/>
<path d="M91.8 221.5 L97.7 226.4 L105.5 227.3 L113.3 229.3 L115.2 234.2 L119.1 236.1" class="prov"/>
<path d="M136.7 227.3 L144.5 233.2 L150.4 235.2 L156.3 235.2 L160.2 229.3 L166 224.4 L171.9 225.4 L175.8 229.3 L185.5 231.3 L190.4 234.2 L193.4 239.1 L198.3 236.7" class="prov"/>
<path d="M198.3 236.7 L197.4 229.8 L202.3 225.8 L210.2 223.9 L215.1 219.9 L216.1 215 L214.6 211 L216 205 L218 200 L219.2 196.4 L218.8 192 L223.4 189.5 L227.3 184.6 L229.3 178.5 L235.6 175.9 L239.5 170.1 L244.4 168.1" class="prov"/>
<path d="M198.3 236.7 L206.2 240.6 L214.1 241.6 L220 239.7 L225.9 237.7 L230.3 237.4 L237.1 242.3 L243 241.3 L250.8 237.4 L256.6 233.5 L262.5 232.5 L268.4 229.6 L274.2 228.6 L277.1 231.5 L284 230.5 L289.8 232.5 L293.8 228.6 L293.4 222.7 L301.6 221.2 L307.4 218.8 L313.3 221.8 L319.1 226.6 L327 227.6 L332.8 230.5 L338.7 227.6 L343.6 229.6 L344.5 234.5 L349.4 237.4 L355.3 239.3 L362.1 240.3 L366 237.4 L373.8 236.4 L381.6 235.4 L389.5 232.5 L395.3 231.5 L399.2 235.4 L405.1 234.5 L409 232.5 L412.9 228.6 L420.7 224.7 L427.5 221.8 L432.4 217.9" class="prov"/>
<path d="M220 239.7 L219.1 246.6 L222 252.5 L227.9 254.4 L231.3 250.5 L234.2 255.9 L239.1 261.7 L244.9 266.6 L250.8 273.4 L258.6 271.5 L266.4 270.5 L270.3 276.4 L276.2 277.3 L284 275.4 L285.9 269.5 L295.7 268.6 L296.7 262.7 L303.5 260.7 L309.4 263.7 L317.2 260.7 L325 258.8 L332.8 255.9 L337.7 252.9 L341.6 248 L342.6 241 L344.5 234.5" class="prov"/>
<path d="M242 214.9 L245.9 208.1 L250.8 202.2 L256.6 197.3 L262.5 195.4 L264.5 202.2 L263.5 208.1 L269.3 212 L267.4 217.9 L271.3 221.8 L266.4 224.7 L258.6 226.6 L252.7 223.7 L247.9 219.8 L242 216.9 L242 214.9" class="prov"/>
<path d="M244.4 168.1 L251.3 169.1 L257.1 172 L261 175.9 L265.9 176.9 L270.8 176.9 L276.6 176.9 L284.5 177.9 L288.4 175.9 L294.2 174 L300.1 174 L302 176.9 L307.9 172 L313.8 169.1 L315.7 173 L321.6 172 L329.4 170.1 L337.2 168.1 L340.1 171.1 L345 172 L350.9 168.1 L356.7 166.2 L360.6 169.1 L362.6 172 L356.7 174 L357.7 176.9 L354.8 179.8 L350.4 184.6 L347.5 189.5 L351.4 194.4 L360.2 194.4 L366 197.3 L367 202.2 L362.1 206.1 L361.1 214.9 L358.2 220.8 L356.3 228.6 L355.3 236.4 L355.3 239.3" class="prov"/>
<path d="M246.4 122.2 L247.3 128.1 L250.3 133.9 L251.3 138.8" class="prov"/>
<path d="M372 120.9 L370.4 126.1 L374.3 132 L377.2 137.9 L376.3 143.7 L371.4 146.6 L364.5 149.6 L358.7 152.5 L354.8 156.4 L347 160.3 L341.1 164.2 L339.1 168.1" class="prov"/>
<path d="M435.5 229.6 L443.4 228.6 L449.3 231.6 L453.3 236.5 L461.1 236.5 L465.1 231.6 L463.1 228.6" class="prov"/>
<path d="M337.7 252.9 L339.6 257.8 L344.5 263.7 L348.4 270.5 L350.4 276.4 L356.3 281.3 L362.1 286.1 L368 290 L371.9 295.9 L375.8 302.7 L379.7 306.6 L383.6 310.5 L389.5 307.6 L395.3 308.6 L398.2 302.7 L399.2 298.8 L405.1 302.7 L411.9 300.8 L414.7 306.6 L420.6 304.7 L427.5 307.6 L433.4 311.6 L440.3 313.5 L441.3 319.4 L440.3 324.4 L444.2 326.4 L443.3 332.3 L447.2 333.6 L453.1 334.2 L458 332.9 L462 331.3 L459 328.3 L460 322.4 L459 316.5 L465.9 316.5 L472.8 318.5 L476.8 318.5 L480.7 321.4 L481.7 329.3 L481.1 337.2 L481.7 343.1 L484.3 346.1" class="prov"/>
<path d="M284 275.4 L282 281.3 L285.9 287.1 L287.9 293 L288.9 300.8 L285.9 306.6 L286.9 314.5 L285.9 321.3 L278.1 323.2 L272.3 321.3 L266.4 325.2 L260.5 326.2 L254.7 330.1 L248.8 334 L245.9 336.9 L249.8 340.8 L256.6 339.8 L259.6 342.8 L258.6 349 L259 356 L262 366 L263 378 L264 390 L266 402" class="prov"/>
<path d="M395.3 308.6 L396.9 313.5 L393.9 319.4 L392 324 L396.3 329.1 L393.4 332 L388.8 334.9 L382.8 338.9 L375.9 340.8 L372 344.8 L375.9 349.7 L378.9 353.7 L380.9 358.6 L377.9 362.5 L378.9 366.5 L374 368.5 L367.1 369.4 L359.2 370.4 L352.3 370.4 L349.3 376.4 L344.4 381.3 L340.4 385.2 L344.4 391.1 L349.3 395.1 L355.2 398 L358.2 403 L357.2 407.9 L352.3 410.9 L349.3 415.8 L345.4 420.7 L341.4 423.7" class="prov"/>
<path d="M34.8 140.7 L39.1 144.6 L44.9 146.6 L48.8 151.5 L51.8 155.4 L51.2 159.3 L52.3 165.2 L50.8 171 L46.9 176.9 L43.4 181.8 L35.2 183.7 L27.3 185.7 L21.5 188.6 L18 191.5" class="riv"/>
<path d="M87.9 219.8 L93.8 218.9 L101.6 215 L109.4 210.1 L115.2 204.2 L121.1 198.4 L127 195.4 L130.9 190.5 L134.8 186.6 L138.7 182.7 L144.5 179.8 L149.4 177.9 L152.3 173.9 L154.3 169.1 L158.2 169.1 L160.2 166.1 L163.1 167.1 L166 168.1 L169.9 164.2 L171.9 166.1 L176.8 165.7 L178.1 169.1 L178.7 173.9 L183.6 177.9 L188.5 175.9 L195.3 173.9 L199.2 173 L202.1 175.9 L208 174.9 L211.9 172 L214.8 168.1 L218.8 166.1 L222.7 169.1 L225.9 164.2 L228.8 165.2 L232.7 169.1 L231.7 165.2 L229.8 159.3 L230.7 155.4 L235.6 153.5 L241.5 151.5 L247.3 151.5 L249.3 149.6 L251.3 144.7 L251.3 138.8 L254.2 133.9 L259.1 131 L260 126.1 L253.2 125.2 L247.3 122.2 L249.3 119.3 L249.3 115.4 L244.4 111.5 L243.4 105.6 L239.5 100.7" class="riv"/>
<path d="M127.3 281.1 L127.9 279.1 L129.3 273.2 L129.9 267.4 L125 262.5 L120.1 255.7 L117.2 248.8 L117.2 241 L120.1 236.1 L125 232.2 L130.9 227.3 L136.7 222.5 L144.5 217.9 L150.4 212 L155.3 207.1 L157.2 202.3 L163.1 198.4 L162.1 193.5 L159.2 189.6 L160.2 185.7 L166 180.8 L169.9 175.9 L171.9 172 L168 169.1 L166 166.1" class="riv"/>
<path d="M169.5 164.5 L170.3 170 L173.4 172.3 L178.1 170" class="riv"/>
<path d="M216.8 168.1 L215.8 174.9 L212.9 180.8 L211.9 187.6 L214.8 194.5 L217.8 200.3 L214.8 206.2 L209 211.1 L203.1 215 L197.3 219.5 L191.4 223.4 L187.5 229.3 L186.5 234.2 L183.6 239.1 L180.7 245.9 L176.8 252.7 L174.8 256.6" class="riv"/>
<path d="M174.8 256.6 L168 257.6 L160.2 259.6 L154.3 261.5 L146.5 264.5 L141.6 267.4" class="riv"/>
<path d="M174.8 256.6 L179.7 259.6 L185.5 262.5 L192.4 266.4 L195.3 269.3 L192.4 274.2 L190.4 278.1 L187.9 281.1" class="riv"/>
<path d="M247.3 151.5 L252.2 156.4 L258.1 159.3 L263.9 161.3 L268.8 160.7 L273.7 157.4 L278.6 153.5 L282.5 149.6 L285.4 146.6 L286.4 142.7 L291.3 139.8 L298.1 137.9 L307.9 135.9 L315.7 136.9 L323.5 135.9 L331.3 133 L337.2 130 L341.1 127.1 L346 124.8 L350.9 124.8 L356.7 127.5 L361.6 130" class="riv"/>
<path d="M285.4 146.6 L292.3 147.6 L298.1 149.6 L304 150.5 L305.9 154.5 L308.9 159.3 L311.8 163.2 L317.7 163.2 L325.5 160.3 L333.3 157.4 L338.2 155.4 L339.5 149.6 L342.1 145.7 L348.9 146.6 L356.7 144.7 L364.5 142.7 L370.4 141.8 L378.2 142.3 L386 142.7 L389.9 145.7 L391.9 148.6" class="riv"/>
<path d="M263.9 161.3 L264.9 166.2 L264.5 170 L267.4 174.9 L271.3 180.7 L269.3 184.6 L264.5 191.5 L259.6 199.3 L254.7 207.1 L249.8 214.9 L246.9 221.8 L244.9 226.6 L239.1 232.5 L233.2 238.4 L227.3 245.2 L219.5 250.1 L214.6 255 L212.7 259.8 L214.6 265.6 L218.6 270.5 L222.5 275.4" class="riv"/>
<path d="M264.9 166.2 L271.3 170 L278.1 174.9 L285.9 177.8 L293.8 178.8 L298.6 181.7 L300.6 185.6 L301.6 191.5 L300.6 199.3 L297.7 206.1 L293.8 212 L292.8 218.8 L293.8 225.7 L295.3 229.6 L291.8 234.5 L287.9 240.3 L285 246.2 L282 252 L278.1 256.9 L272.3 259.8 L267.4 262.8 L263.5 266.7 L262.1 268.6" class="riv"/>
<path d="M301.1 183.8 L309.4 181.7 L319.1 179.4 L328.9 177.4 L334.8 175.9 L340.6 177.8 L346.5 178.8 L351.4 182.7 L356.3 184.6 L364.1 183.7 L371.9 183.3 L379.7 186.6 L387.5 189.5 L395.3 192.5 L403.1 196.4 L410 200.3 L411.9 205.2 L410 211 L410.9 215.9 L412.9 218.8" class="riv"/>
<path d="M359.2 250.1 L364.1 248.1 L371.9 244.2 L379.7 239.3 L387.5 236.4 L395.3 232.5 L401.2 227.6 L406.1 224.3 L410 224.7 L412.9 227.6 L416.8 229.6 L422.7 227.6 L428.5 223.7 L432.4 219.8 L433.4 216.9" class="riv"/>
<path d="M222.5 325.2 L224.23 324.84 L225.49 323.36 L227.27 323.12 L229.35 322.84 L231.06 321.39 L233.24 321.43 L234.52 320.26 L236.42 320.41 L237.53 318.93 L239.14 318.48 L241.23 318.31 L243.17 317.65 L244.83 316.21 L245.96 314.86 L247.18 313.48 L248.7 312.4 L250.68 311.5 L251.84 309.62 L253.81 308.74 L255.42 307.87 L255.81 305.81 L257.57 305.12 L258.51 303.61 L260.62 303.67 L262.48 302.7 L264.53 302.85 L266.08 303.21 L267.25 304.49 L268.99 304.68 L270.27 305.77 L272.05 304.39 L274.41 304.9 L276.22 303.77 L277.26 302.01 L278.76 300.85 L280.82 300.34 L282.12 298.95 L284.09 298.13 L285.95 297.01 L287.03 295.68 L288.19 294.5 L289.86 293.97 L291.93 294.1 L293.61 295.6 L295.74 295.79 L297.78 295.16 L299.56 293.83 L300.96 294.87 L302.77 294.97 L303.92 296.35 L305.55 296.8 L307.5 296.43 L309.45 295.82 L311.27 294.8 L313.31 294.81 L315.17 293.85 L317.19 293.84 L319 293.69 L320.63 293.07 L322.04 291.85 L323.83 291.97 L325.4 290.85 L327.25 291.58 L328.87 290.81 L330.58 291.1 L331.94 289.92 L333.65 290.16 L335.09 289.26 L336.72 289.17 L338.44 288.97 L339.61 287.35 L341.54 287.72 L342.81 286.35 L344.55 286.22 L346.38 285.25 L348.47 286.26 L350.31 285.07 L352.31 285.27 L353.74 284.24 L355.69 284.6 L357.12 283.62 L358.52 282.54 L360.16 282.1 L361.59 281.17 L363.39 281.24 L364.66 279.86 L366.59 280.3 L367.96 279.19 L369.83 278.34 L372.04 278.47 L373.85 277.43 L375.46 276.96 L376.52 275.39 L377.94 274.54 L379.74 274.47 L381.05 273.25 L382.94 273.57 L384.5 272.99 L385.86 271.86 L387.56 271.66 L388.67 270.06 L390.06 268.97 L391.69 268.23 L393.5 267.75 L394.8 266.5 L396.4 265.8 L398.39 265.88 L399.49 264.17 L401.14 263.58 L402.84 263.31 L404.19 262.15 L405.76 261.59 L407.21 260.71 L409.08 260.9 L410.65 260.37 L411.71 258.86 L413.14 258.1 L414.85 257.91 L416.49 257.84 L418.02 258.69 L419.68 258.89 L420.58 257.09 L422.68 256.48 L423.11 254.36 L424.63 253.24 L426.33 252.13 L426.62 249.87 L428.86 249.2 L429.46 247.18 L430.78 245.69 L430.97 243.52 L432.92 242.35 L433.41 240.35 L434.21 238.73 L433.94 236.79 L435.31 235.31 L435.34 233.45 L436.16 231.53 L435.24 229.55 L434.83 227.57 L435.31 225.6 L435.65 223.72 L434.21 222.19 L434.57 220.26 L433.41 218.67 L433.65 216.77" class="riv"/>
<path d="M322.1 292 L322.32 293.77 L323.56 295.26 L323.86 297.01 L323.84 298.85 L324.61 300.7 L324.1 302.75 L324.48 304.68 L325.19 306.58 L324.27 308.1 L323.7 309.63 L324.27 311.46 L323.12 312.85 L323.08 314.52 L323.16 316.12 L324.47 317.45 L323.53 319.35 L325.09 320.61 L325.16 322.26 L325.11 324.03 L326.44 325.32 L326.14 327.2 L327.61 328.43 L327.81 330.13 L328.07 331.97 L329.68 333.35 L329.37 335.39 L330.46 336.94 L328.98 338.74 L328.9 341.05 L327.47 342.74 L326.14 343.88 L324.14 343.67 L322.75 344.92 L320.55 344.68 L318.68 345.73 L319.05 347.82 L318.08 349.71 L318.3 351.72 L317.92 353.38 L319.17 354.89 L318.59 356.61" class="riv"/>
<path d="M327.6 342.8 L329.13 343.96 L331.21 343.25 L332.58 344.97 L334.55 344.62 L335.63 346.3 L337.27 347.02 L339.23 347.26 L340.34 348.78 L342.25 349.18 L343.73 350.2 L344.53 352.25 L346.45 352.62 L347.69 353.8 L349.56 353.71 L350.61 355.31 L352.23 355.74 L354.12 355.22 L355.81 355.65 L357.51 356.13 L359.19 356.69 L360.32 358.27 L362.38 358.83 L363.21 360.84 L365.15 361.54 L366.01 363.14 L367.21 364.39 L369.1 364.95 L369.86 366.64 L369.29 367.99 L367.57 368.73 L367.26 370.52 L365.77 371.38 L365.61 373.31 L364.45 374.43 L362.99 375.32 L362.93 377.15 L362.16 378.6 L360.72 379.72 L360.02 381.21 L360.65 383.27 L359.51 385.23 L360.27 387.2 L361.59 388.58 L361.62 390.77 L363.24 392.02 L364.43 393.31 L366.26 393.79 L367.3 395.43 L369.09 395.97 L370.18 397.71 L372.39 398.08 L373.91 399.27 L375.04 400.95 L376.23 402.52 L378.25 403.09 L379.21 404.93 L380.83 405.99 L381.87 407.33 L383.72 407.61 L384.7 409.03 L387.8 408.83" class="riv"/>
<path d="M419.7 259.2 L420.72 260.82 L422.7 261.46 L423.6 263.2 L423.4 265.19 L422.13 266.95 L421.82 269.04 L420.17 269.94 L420.25 272.08 L418.79 273.07 L419.71 274.49 L419.12 276.32 L419.87 277.86 L420.41 279.45 L422.01 280.34 L422.8 281.82 L421.43 283.7 L420.92 285.77 L420.82 287.98 L419.87 289.82 L417.82 290.61 L417.16 292.59 L415.54 293.75 L415.94 295.86 L414.3 297.63 L414.92 299.73 L414.32 301.77 L415.88 303.55 L415.53 305.61 L414.68 307.06 L412.92 307.69 L412.49 309.63 L410.58 310.11 L409.87 311.76 L409.79 313.7 L408.81 315.53 L406.89 315.72 L405.32 316.74 L403.31 316.28 L401.85 317.68 L400.51 319.04 L398.23 318.92 L396.95 320.49 L395.47 321.41 L394.66 322.89 L394.01 324.48 L394.5 326 L396.29 326.7 L396.84 328.35 L398.92 329.16 L400.5 330.56 L401.73 332.38 L403.49 333.29 L404.49 335.12 L406.06 336.26 L407.66 337.37 L409.31 338.44 L409.78 340.54 L410.92 342.09 L412.81 343.01 L413.63 344.62 L415.37 345.33 L415.81 347.34 L417.71 347.89 L418.79 349.42 L420.84 349.57 L421.87 351.24 L423.6 351.85 L424.79 353.1 L426.76 352.83 L427.81 354.42 L429.44 354.81 L430.36 356.26 L432.13 356.62 L432.75 358.4 L434.47 358.81 L434.91 360.73 L436.59 361.78 L434.71 362.61 L434.31 364.78 L432.26 365.08 L431.34 366.66 L429.78 368.01 L427.43 367.88 L425.77 368.97 L424.4 370.58 L422.39 371.09 L421.07 372.78 L418.79 372.83 L417.35 374.32 L416.12 376.03 L413.67 375.64 L412.28 377.1 L413.07 378.9 L412.42 380.76 L413.63 382.25 L414.09 384.41 L415.49 386.15 L413.87 387.33 L412.96 389.1 L411.26 390.06 L410.03 391.59 L409.2 393.31 L408.38 395.03 L409.28 396.99 L408.52 399.14 L409.57 400.99 L408.25 402.82 L407.37 404.84 L405.44 404.67 L403.68 406.21 L401.59 405.82" class="riv"/>
<path d="M436.4 361.9 L438.18 362.05 L439.93 361.98 L441.5 360.65 L443.32 361.04 L445.23 360.46 L447.26 360.89 L449.1 359.76 L451.12 360.06 L452.8 359.63 L454.33 358.89 L456.03 358.61 L457.25 357.05 L459.06 357.06 L460.44 355.94 L462.01 355.32 L463.81 355.36 L465.45 354.94 L466.92 354.07 L468.89 353.45 L470.44 352.16 L471.97 350.83 L473.75 349.91 L475.13 348.97 L476.51 348.06 L478.41 348.2 L479.75 347.21" class="riv"/>
<path d="M325 418.8 L327.05 419.06 L328.72 417.28 L330.85 417.98 L332.62 418.18 L332.59 420.51 L335.08 420.32 L335.15 422.55 L335.97 424.51 L337.81 425.14 L340.44 424.8 L340.98 427.05 L343.15 427.64 L343.43 429.45 L343.33 431.49 L344.42 432.81 L346.91 432.52 L348.1 435.17 L350.28 435.3 L352.41 434.81 L353.93 437.13 L356.17 435.76 L358.15 436.34 L359.75 434.22 L361.95 435.26 L363.63 433.72 L366.16 434.46 L367.61 432.48 L370 431.38 L372.3 432.86 L373.63 434.37 L372.78 436.92 L374.78 438.33 L376.55 438.78 L377.86 439.81 L377.89 442.11 L377.79 443.72 L380.01 445.13 L377.63 447.28 L379.46 448.76 L378.96 451.32 L380.57 453.35 L382.55 454.35 L384.09 452.09 L386.04 452 L387.53 450.58 L386.29 448.31 L387.63 446.57 L389.37 444.99 L391.97 445.67 L393.83 446.83 L394.26 448.87 L393.9 451.22 L396.11 451.22 L397.82 451.65 L398.22 454.27 L399.77 454.97 L401.59 453.55 L403.68 455.3 L405.39 454.93 L406.82 452.97 L408.31 455.49 L410.96 454.44 L412.83 455.37 L414.72 455.53 L416.28 457.54 L418.45 456.67 L420.04 458.7 L422.44 456.85 L424.14 458.39 L426.41 457.66 L426.38 461.03 L428.3 461.08 L430.11 461.31 L431.49 462.69 L433.52 462.37 L435.27 461.98 L437.27 461.42 L437.76 458.88 L439.08 457.53 L441.6 458.74 L442.79 457.27 L444.59 457.35 L446.51 457.11 L448.37 456.1 L450.16 457.72 L452.05 458.31 L454.14 457.74" class="riv"/>
</g>
<path d="M10.5 154.5 L35.1 140.2 L82.7 110.1 L96.5 104.6 L96.5 98.8 L100.3 97.6 L102.8 98.8 L103.3 102.1 L122.3 96.8 L124.1 101.4 L121.6 108.9 L124.1 113.9 L125.3 118.9 L130.3 123.2 L141.6 122.7 L142.4 113.9 L147.9 113.1 L152.4 110.9 L160.4 114.6 L172.9 118.1 L178.4 120.2 L179.2 128.9 L185.5 131.4 L191.7 130.2 L193 133.2 L200.5 130.2 L208 125.7 L215.5 122.7 L226.8 115.6 L238.1 102.6 L235.6 96.8 L251.9 96.3 L253.1 99.6 L263.2 98.8 L264.4 93.8 L260.7 90.1 L261.9 86.3 L258.1 83.8 L258.6 78.8 L271.9 74.5 L279.4 73.8 L280.2 78.8 L278.2 83.8 L285.7 83.8 L295.7 85.1 L300 77.5 L306.3 71.3 L310 68.8 L316.3 71.3 L319.5 76.3 L318.3 82.6 L319 87.1 L325.1 88.8 L330.1 92.1 L337.6 83.8 L341.4 75 L345.1 72 L348.1 76.3 L352.6 77.5 L354.6 83.8 L351.4 91.3 L358.9 101.4 L360.2 107.6 L367.7 106.4 L373.2 111.4 L372.7 118.9 L380.2 120.2 L387.7 117.1 L396.5 118.9 L401.5 113.9 L407.8 111.9 L411.5 116.4 L415.8 120.2 L416.5 127.2 L425.3 132.7 L430.3 136.4 L444.1 137.7 L446.6 142.7 L452.9 140.2 L456.6 145.2 L450.4 151.5 L451.6 156.5 L447.9 160.3 L449.9 161.3 L445.4 165 L444.1 171.3 L447.9 176.3 L441.6 182.6 L444.1 186.3 L439.1 190.1 L437.3 197.6 L430.3 202.6 L429.1 208.9 L431.6 213.9 L436.6 217.6 L435.3 226.4 L441.6 227.2 L445.4 223.9 L450.4 227.2 L457.9 225.7 L462.9 228.2 L472.9 226.4 L480.5 228.2 L483 233.9 L493 234.7 L498 241.5 L501.8 249 L503 254.7 L514.3 254.7 L513 260 L506.7 265 L501.7 270 L505.5 277.5 L507.8 280.9 L509 282.4 L512.5 280.9 L515.5 280.6 L519.1 280.6 L522 281.8 L526.2 283.6 L524.7 286.5 L525.6 289.5 L529.7 291.2 L530.3 295.4 L528.8 299.5 L528.3 302.5 L525.6 306.6 L527.3 309 L530.3 311.4 L533.3 313.7 L535 316.7 L533.8 319.6 L530.9 320.8 L528.5 322.8 L526.2 319.6 L523.2 318.5 L520.8 320.8 L519.6 325 L518.5 328.5 L517.9 330.3 L514.3 331.5 L509.6 333.3 L507.2 335.6 L505.4 338 L504.2 341.5 L506.7 346.5 L505.5 351.5 L501 353.7 L495.4 354.2 L490.4 354.7 L485.4 354 L482.9 347.7 L476.6 351.5 L474.1 359 L466.6 362.8 L465.4 370.3 L461.6 375.3 L462.9 380.3 L461.7 381.3 L455.4 387.5 L456.7 393.8 L448.4 397.5 L449.2 401.3 L445.4 410.1 L450.9 416.3 L445.5 420 L446.4 425.2 L447.3 432 L452.4 434.6 L455 438.9 L457.6 444 L460.1 448.3 L464.4 450 L465.3 454.3 L467.9 458.6 L469.2 462.9 L467 468.1 L465.3 471.5 L462.7 474.1 L464.4 478.4 L461.8 480.9 L459.3 486.1 L455.8 484.4 L452.4 482.7 L449 483.5 L446.4 487.8 L443 486.1 L438.7 485.2 L434.4 487.8 L430.9 490.4 L429.2 495.5 L425.8 493.8 L421.5 491.2 L417.2 492.1 L412.9 494.7 L408.6 498.1 L406.1 493.8 L406.9 488.7 L404.3 483.5 L403.5 478.4 L400.9 474.1 L395.8 470.6 L390.6 469.8 L387.2 473.2 L386.3 469.8 L388.9 465.5 L386.3 461.2 L382 457.8 L376.9 456.1 L370 455.2 L366.5 455.2 L361.5 450.2 L355.2 442.2 L347.7 440.2 L338.9 433.9 L323.9 435.6 L323.1 431.4 L325.6 426.4 L322.4 420 L324.4 416.6 L327.4 412.7 L326.4 407.8 L324.4 403.8 L319.5 400.9 L314.5 398.9 L313.6 395.9 L316.5 393 L317.5 388 L320.5 383.1 L318.5 379.2 L319.5 373.3 L323.4 372.3 L325.4 367.3 L324.4 364.4 L328.3 361.4 L326.4 356.5 L319.5 354.5 L318.5 356.5 L314.5 357.5 L309.6 360.4 L306.6 364.4 L302.7 368.3 L300.7 373.3 L298.8 379.2 L299.7 385.1 L300.7 392 L294.8 393 L288.9 394 L282 395.9 L278 398.9 L273.1 401.9 L266.2 403.8 L259.3 401.9 L252.4 400.5 L246.5 398.5 L239.6 398.9 L231.7 399.9 L226.8 395.9 L223.8 392 L225.8 389 L224.8 383.1 L228.7 380.2 L234.7 377.2 L235.6 373.3 L233.7 367.3 L231.7 363 L223.8 362.4 L223.8 358.5 L226.8 354.5 L225.8 348.6 L228.7 345.6 L230.7 340.7 L235.6 336.8 L234.7 333.8 L229.5 328.8 L226.5 329.3 L228.7 329.9 L229.7 332.2 L228.1 334.8 L225.8 335.6 L223.8 334.8 L222.8 329.9 L219.9 325.9 L213.9 321 L217.8 322.7 L212.8 318.9 L209.1 314.7 L204.1 315.2 L197.8 317.2 L191.5 320.2 L187.8 316.4 L181.5 315.7 L174 314.7 L169 316.4 L167.2 324 L164 322.7 L159.7 313.9 L160.2 307.7 L158.9 293.9 L152.7 285.1 L146.4 283.1 L137.6 285.1 L140.2 278.8 L133.9 277.1 L128.9 281.4 L120.1 283.9 L110.1 277.6 L107.1 267.6 L106.3 256.3 L103.1 247.5 L105.1 240 L102.8 237.7 L97.7 234 L95.2 227.7 L91.5 220.7 L86.5 219.7 L81.5 222.7 L77.7 221.5 L72.7 224 L68.9 226.5 L62.7 229 L61.4 235.2 L57.6 240.3 L53.9 236.5 L47.6 235.2 L41.4 231.5 L38.8 224 L33.8 218.9 L32.6 213.9 L27.6 213.9 L23.8 211.4 L17.5 205.2 L18 197.6 L16.3 191.4 L20.1 185.1 L21.3 180.1 L15 173.8 L13.8 165.1 L10.5 154.3 Z" class="outl"/>
<circle cx="498.5" cy="357.3" r="2.5" fill="#F2861F" stroke="#1a1a1a" stroke-width="1.5"/>
<path d="M318.3 83.1 L313.8 83.6 L310.3 84.6 L311 87.1 L315 87.6 L319 87.3 Z" fill="#fff" stroke="#1a1a1a" stroke-width="1.3" stroke-linejoin="round"/>
<path d="M329.6 80.1 L332.1 78.5 L334.6 80.1 L334.1 83.8 L331.1 85.6 L329.1 83.1 Z" fill="#1a1a1a" stroke="#1a1a1a" stroke-width="1"/>
</g>
</svg>
</body></html>
